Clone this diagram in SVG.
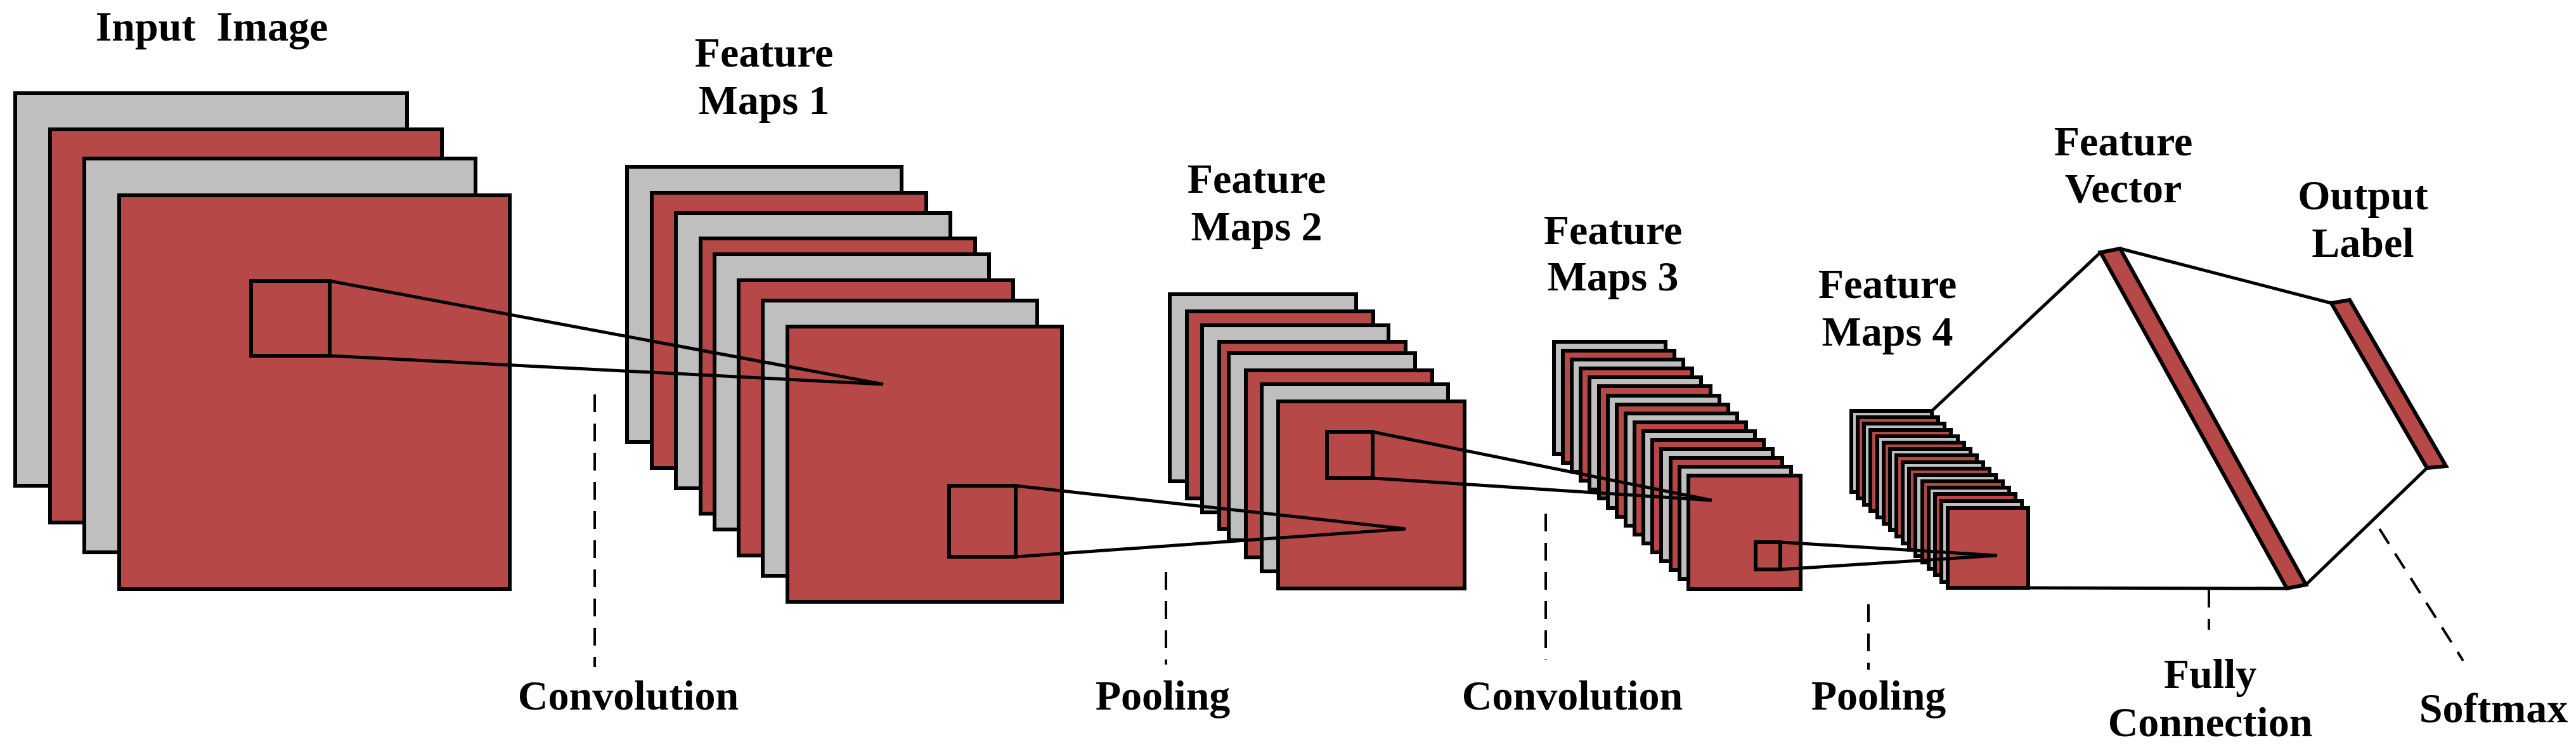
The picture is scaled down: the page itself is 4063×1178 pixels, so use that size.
<svg xmlns="http://www.w3.org/2000/svg" width="4063" height="1178" viewBox="0 0 4063 1178">
<style>
.g{fill:#bfbfbf;stroke:#000;stroke-width:6}
.r{fill:#b64848;stroke:#000;stroke-width:6}
.ln{fill:none;stroke:#000;stroke-width:5}
.d{fill:none;stroke:#000;stroke-width:4;stroke-dasharray:28,18}
text{font-family:"Liberation Serif",serif;font-weight:bold;font-size:66px;text-anchor:middle;fill:#000}
</style>
<rect width="4063" height="1178" fill="#fff"/>
<g id="input-image">
<rect class="g" x="24" y="147" width="618" height="619"/>
<rect class="r" x="79" y="204" width="618" height="620"/>
<rect class="g" x="133" y="250" width="617" height="621"/>
<rect class="r" x="188" y="308" width="616" height="621"/>
<rect class="r" x="396" y="443" width="124" height="118"/>
<text x="334" y="64" xml:space="preserve">Input  Image</text>
</g>
<g id="feature-maps-1">
<rect class="g" x="989" y="263" width="433" height="434"/>
<rect class="r" x="1028" y="304" width="433" height="434"/>
<rect class="g" x="1066" y="336" width="433" height="434"/>
<rect class="r" x="1105" y="376" width="433" height="434"/>
<rect class="g" x="1127" y="401" width="433" height="434"/>
<rect class="r" x="1165" y="442" width="433" height="434"/>
<rect class="g" x="1203" y="474" width="433" height="434"/>
<rect class="r" x="1242" y="515" width="433" height="434"/>
<rect class="r" x="1497" y="766" width="105" height="112"/>
<text x="1205" y="105">Feature</text>
<text x="1205" y="180">Maps 1</text>
</g>
<g id="feature-maps-2">
<rect class="g" x="1845" y="464" width="294" height="295"/>
<rect class="r" x="1872" y="491" width="294" height="295"/>
<rect class="g" x="1896" y="513" width="294" height="295"/>
<rect class="r" x="1923" y="539" width="294" height="295"/>
<rect class="g" x="1938" y="557" width="294" height="295"/>
<rect class="r" x="1965" y="584" width="294" height="295"/>
<rect class="g" x="1990" y="606" width="294" height="295"/>
<rect class="r" x="2016" y="633" width="294" height="295"/>
<rect class="r" x="2093" y="681" width="72" height="73"/>
<text x="1982" y="304">Feature</text>
<text x="1982" y="379">Maps 2</text>
</g>
<g id="feature-maps-3">
<rect class="g" x="2451" y="539" width="176" height="177"/>
<rect class="r" x="2465" y="553" width="176" height="177"/>
<rect class="g" x="2479" y="567" width="176" height="177"/>
<rect class="r" x="2493" y="581" width="176" height="177"/>
<rect class="g" x="2507" y="595" width="176" height="177"/>
<rect class="r" x="2522" y="609" width="176" height="177"/>
<rect class="g" x="2536" y="624" width="176" height="177"/>
<rect class="r" x="2550" y="638" width="176" height="177"/>
<rect class="g" x="2564" y="652" width="176" height="177"/>
<rect class="r" x="2578" y="666" width="176" height="177"/>
<rect class="g" x="2592" y="680" width="176" height="177"/>
<rect class="r" x="2606" y="694" width="176" height="177"/>
<rect class="g" x="2620" y="708" width="176" height="177"/>
<rect class="r" x="2635" y="722" width="176" height="177"/>
<rect class="g" x="2649" y="736" width="176" height="177"/>
<rect class="r" x="2663" y="750" width="177" height="179"/>
<rect class="r" x="2769" y="855" width="39" height="43"/>
<text x="2544" y="385">Feature</text>
<text x="2544" y="458">Maps 3</text>
</g>
<g id="feature-maps-4">
<rect class="g" x="2920" y="648" width="127" height="128"/>
<rect class="r" x="2930" y="658" width="127" height="128"/>
<rect class="g" x="2940" y="668" width="127" height="128"/>
<rect class="r" x="2950" y="678" width="127" height="128"/>
<rect class="g" x="2961" y="688" width="127" height="128"/>
<rect class="r" x="2971" y="698" width="127" height="128"/>
<rect class="g" x="2981" y="708" width="127" height="128"/>
<rect class="r" x="2991" y="718" width="127" height="128"/>
<rect class="g" x="3001" y="729" width="127" height="128"/>
<rect class="r" x="3011" y="739" width="127" height="128"/>
<rect class="g" x="3021" y="749" width="127" height="128"/>
<rect class="r" x="3032" y="759" width="127" height="128"/>
<rect class="g" x="3042" y="769" width="127" height="128"/>
<rect class="r" x="3052" y="779" width="127" height="128"/>
<rect class="g" x="3062" y="790" width="127" height="128"/>
<rect class="r" x="3072" y="801" width="127" height="126"/>
<text x="2977" y="470">Feature</text>
<text x="2977" y="545">Maps 4</text>
</g>
<g id="connectors">
<polyline class="ln" points="520,443 1393,606 520,561"/>
<polyline class="ln" points="1602,766 2217,834 1602,878"/>
<polyline class="ln" points="2165,681 2700,789 2165,754"/>
<polyline class="ln" points="2808,855 3150,876 2808,898"/>
<line class="ln" x1="3047" y1="648" x2="3313" y2="398"/>
<line class="ln" x1="3199" y1="927" x2="3607" y2="928"/>
<line class="ln" x1="3344" y1="392" x2="3677" y2="478"/>
<line class="ln" x1="3637" y1="922" x2="3828" y2="738"/>
<line class="d" x1="938" y1="622" x2="938" y2="1052"/>
<line class="d" x1="1839" y1="902" x2="1839" y2="1048"/>
<line class="d" x1="2438" y1="810" x2="2438" y2="1041"/>
<line class="d" x1="2947" y1="953" x2="2947" y2="1056"/>
<line class="d" x1="3484" y1="930" x2="3484" y2="993"/>
<line class="d" x1="3753" y1="834" x2="3885" y2="1042"/>
</g>
<g id="feature-vector">
<polygon class="r" points="3313,398 3344,392 3637,922 3607,928"/>
<text x="3349" y="245">Feature</text>
<text x="3349" y="319">Vector</text>
</g>
<g id="output-label">
<polygon class="r" points="3677,478 3706,473 3858,735 3828,738"/>
<text x="3727" y="330">Output</text>
<text x="3727" y="405">Label</text>
</g>
<g id="labels">
<text x="991" y="1119">Convolution</text>
<text x="1834" y="1119">Pooling</text>
<text x="2480" y="1119">Convolution</text>
<text x="2963" y="1119">Pooling</text>
<text x="3486" y="1085">Fully</text>
<text x="3486" y="1161">Connection</text>
<text x="3933" y="1139">Softmax</text>
</g>
</svg>
